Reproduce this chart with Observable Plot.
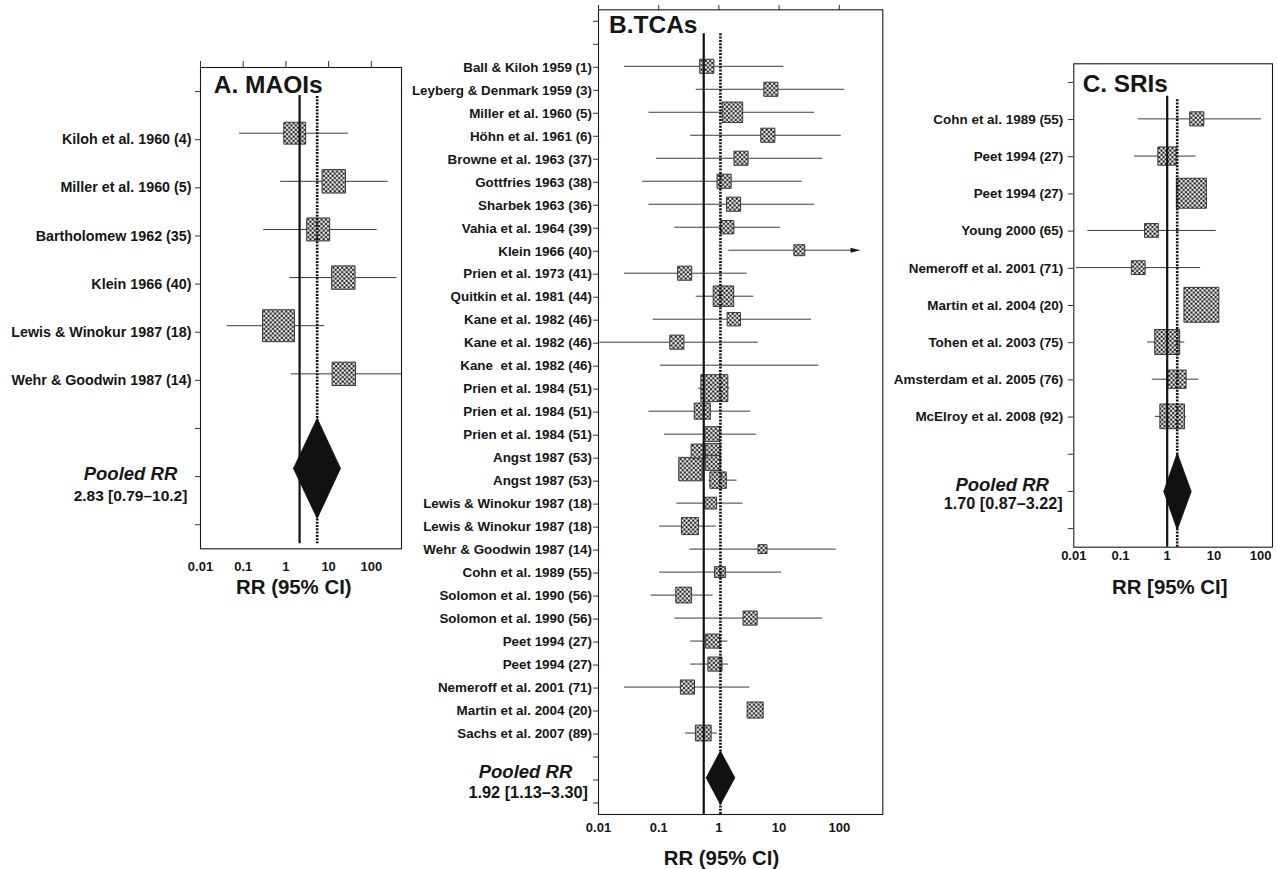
<!DOCTYPE html>
<html>
<head>
<meta charset="utf-8">
<script src="https://cdn.jsdelivr.net/npm/d3@7"></script>
<script src="https://cdn.jsdelivr.net/npm/@observablehq/plot@0.6"></script>
<style>
html, body { margin: 0; padding: 0; background: #fff; }
#wrap { position: relative; width: 1277px; height: 869px; overflow: hidden; }
</style>
</head>
<body>
<svg width="0" height="0" style="position:absolute">
  <defs>
    <pattern id="chk" width="4.4" height="4.4" patternUnits="userSpaceOnUse">
      <rect width="4.4" height="4.4" fill="#9c9c9c"/>
      <rect x="0.2" y="0.2" width="1.8" height="1.8" fill="#0c0c0c"/>
      <rect x="2.4" y="2.4" width="1.8" height="1.8" fill="#0c0c0c"/>
      <rect x="2.4" y="0.2" width="1.8" height="1.8" fill="#fafafa"/>
      <rect x="0.2" y="2.4" width="1.8" height="1.8" fill="#fafafa"/>
    </pattern>
  </defs>
</svg>
<div id="wrap"></div>
<script>
// ---------- shared axis ----------
const xTicks = [0.01, 0.1, 1, 10, 100];
const xTickLabels = ["0.01", "0.1", "1", "10", "100"];
const pooledLabel = "Pooled RR";

// ---------- Panel A: MAOIs ----------
const aTitle = "A. MAOIs";
const aStudies = ["Kiloh et al. 1960 (4)", "Miller et al. 1960 (5)", "Bartholomew 1962 (35)",
  "Klein 1966 (40)", "Lewis & Winokur 1987 (18)", "Wehr & Goodwin 1987 (14)"];
const aEst = [1.61, 13.2, 5.7, 22.1, 0.67, 22.7];
const aLo = [0.082, 0.75, 0.30, 1.24, 0.042, 1.35];
const aHi = [29, 249, 137, 400, 8.1, 540];
const aWeight = [4.8, 5.5, 5.3, 5.5, 10.2, 5.5];
const aPooledText = "2.83 [0.79–10.2]";
const aPooledDrawn = [1.5, 5.4, 19];      // lo, est, hi as drawn
const aRefLine = 2.09, aPooledLine = 5.4;
const aXLabel = "RR (95% CI)";

// ---------- Panel B: TCAs ----------
const bTitle = "B.TCAs";
const bStudies = ["Ball & Kiloh 1959 (1)", "Leyberg & Denmark 1959 (3)", "Miller et al. 1960 (5)",
  "Höhn et al. 1961 (6)", "Browne et al. 1963 (37)", "Gottfries 1963 (38)", "Sharbek 1963 (36)",
  "Vahia et al. 1964 (39)", "Klein 1966 (40)", "Prien et al. 1973 (41)", "Quitkin et al. 1981 (44)",
  "Kane et al. 1982 (46)", "Kane et al. 1982 (46)", "Kane  et al. 1982 (46)", "Prien et al. 1984 (51)",
  "Prien et al. 1984 (51)", "Prien et al. 1984 (51)", "Angst 1987 (53)", "Angst 1987 (53)",
  "Lewis & Winokur 1987 (18)", "Lewis & Winokur 1987 (18)", "Wehr & Goodwin 1987 (14)",
  "Cohn et al. 1989 (55)", "Solomon et al. 1990 (56)", "Solomon et al. 1990 (56)", "Peet 1994 (27)",
  "Peet 1994 (27)", "Nemeroff et al. 2001 (71)", "Martin et al. 2004 (20)", "Sachs et al. 2007 (89)"];
const bEst = [0.63, 7.3, 1.68, 6.5, 2.33, 1.22, 1.75, 1.37, 21.7, 0.27, 1.19, 1.77, 0.20, null,
  0.84, 0.53, 0.78, null, 0.97, 0.73, 0.33, 5.3, 1.04, 0.26, 3.3, 0.79, 0.86, 0.30, 4.0, 0.55];
const bLo = [0.027, 0.42, 0.069, 0.34, 0.092, 0.054, 0.069, 0.185, 1.46, 0.027, 0.42, 0.081, 0.0105, 0.107,
  0.46, 0.069, 0.125, null, 0.68, 0.20, 0.104, 0.33, 0.104, 0.075, 0.185, 0.34, 0.34, 0.027, null, 0.28];
const bHi = [12.0, 122, 39, 108, 53, 24.2, 39, 10.5, 219, 2.95, 3.8, 34.5, 4.5, 45.7,
  1.52, 3.35, 4.2, null, 2.0, 2.53, 0.90, 89, 11, 0.80, 53, 1.41, 1.44, 3.26, null, 0.94];
const bWeight = [2.0, 2.0, 4.2, 2.0, 2.0, 2.0, 2.0, 1.8, 1.2, 2.0, 4.2, 1.8, 2.0, null,
  7.3, 2.6, 2.25, null, 2.7, 1.4, 2.9, 0.8, 1.2, 2.5, 2.0, 2.0, 2.0, 2.0, 2.6, 2.5];
const bArrowStudy = "Klein 1966 (40)";     // CI continues beyond the axis
// overlapping squares printed around the Angst 1987 rows (row index on the panel's row list)
const bOverlapRows = [18.74, 18.74, 19.25, 19.52];
const bOverlapEst = [0.453, 0.79, 0.79, 0.337];
const bOverlapWeight = [2.0, 2.25, 2.25, 5.5];
const bPooledText = "1.92 [1.13–3.30]";
const bPooledDrawn = [0.615, 1.06, 1.84];
const bRefLine = 0.56, bPooledLine = 1.06;
const bXLabel = "RR (95% CI)";

// ---------- Panel C: SRIs ----------
const cTitle = "C. SRIs";
const cStudies = ["Cohn et al. 1989 (55)", "Peet 1994 (27)", "Peet 1994 (27)", "Young 2000 (65)",
  "Nemeroff et al. 2001 (71)", "Martin et al. 2004 (20)", "Tohen et al. 2003 (75)",
  "Amsterdam et al. 2005 (76)", "McElroy et al. 2008 (92)"];
const cEst = [4.3, 0.99, 3.3, 0.46, 0.24, 5.4, 1.0, 1.62, 1.28];
const cLo = [0.24, 0.20, null, 0.02, 0.0114, null, 0.38, 0.48, 0.56];
const cHi = [104, 4.2, null, 11.2, 5.2, null, 2.38, 4.75, 2.59];
const cWeight = [2.0, 3.35, 9.0, 1.9, 1.9, 12.2, 6.25, 3.35, 6.1];
const cPooledText = "1.70 [0.87–3.22]";
const cPooledDrawn = [0.845, 1.64, 3.27];
const cRefLine = 1.0, cPooledLine = 1.64;
const cXLabel = "RR [95% CI]";

// ---------- drawing ----------
const SIDE_PER_SQRT_WEIGHT = 10;
const arrowHead = {draw(ctx) { ctx.moveTo(4.6, 0); ctx.lineTo(-4.6, -2.5); ctx.lineTo(-4.6, 2.5); ctx.closePath(); }};
const FONT = "'Liberation Sans', Arial, Helvetica, sans-serif";

function makePanel(p) {
  const n = p.rows.length;
  const studies = p.labels.map((label, k) => ({label, row: p.firstRow + k, est: p.est[k], lo: p.lo[k], hi: p.hi[k], w: p.weight[k]}));
  const extra = (p.extraRows || []).map((row, k) => ({row, est: p.extraEst[k], w: p.extraWeight[k]}));
  const rOf = d => SIDE_PER_SQRT_WEIGHT * Math.sqrt(d.w) / Math.sqrt(Math.PI);
  const pr = p.pooledRow;
  const [dlo, dest, dhi] = p.pooledDrawn;
  const h = p.diamondHalf;
  const diamond = [[dlo, pr], [dest, pr - h], [dhi, pr], [dest, pr + h], [dlo, pr]];
  const marks = [];
  marks.push(Plot.ruleY(studies.filter(d => d.lo != null && d.hi != null),
    {y: "row", x1: "lo", x2: "hi", stroke: "#3a3a3a", strokeWidth: 1, dy: p.dy}));
  if (p.arrowLabel) {
    const s = studies.find(d => d.label === p.arrowLabel);
    marks.push(Plot.dot([s], {x: "hi", y: "row", symbol: arrowHead, r: 3, fill: "#1a1a1a", stroke: "none", dx: -4.6, dy: p.dy}));
  }
  const sq = {x: "est", y: "row", r: rOf, symbol: "square", fill: "url(#chk)", stroke: "#2b2b2b", strokeWidth: 0.9, dy: p.dy};
  marks.push(Plot.dot(studies.filter(d => d.est != null), sq));
  if (extra.length) marks.push(Plot.dot(extra, sq));
  marks.push(Plot.ruleX([p.refLine], {stroke: "#111", strokeWidth: 2.2, insetTop: p.refInsetTop, insetBottom: p.insetBottom}));
  marks.push(Plot.ruleX([p.pooledLine], {stroke: "#111", strokeWidth: 2.6, strokeDasharray: "2,1.3", insetTop: p.dotInsetTop, insetBottom: p.insetBottom}));
  marks.push(Plot.line(diamond, {x: d => d[0], y: d => d[1], fill: "#111", stroke: "#111", strokeWidth: 0.8, dy: p.diamondDy}));
  marks.push(Plot.frame({stroke: "#1a1a1a", strokeWidth: 1.1}));
  if (p.topTickSize) marks.push(Plot.axisX({anchor: "top", ticks: xTicks, tickSize: p.topTickSize, tickFormat: () => "", label: null, stroke: "#333"}));
  marks.push(Plot.axisX({anchor: "bottom", ticks: xTicks, tickSize: 0, tickPadding: p.xLabelPad,
    tickFormat: d => xTickLabels[xTicks.indexOf(d)], label: null, fontSize: 13, fontWeight: "bold"}));
  marks.push(Plot.axisY({ticks: d3.range(n), tickFormat: i => p.rows[i], tickSize: p.yTick, tickPadding: p.yPad,
    label: null, fontSize: p.yFont, fontWeight: "bold", stroke: "#333"}));
  marks.push(Plot.text([p.title], {text: d => d, frameAnchor: "top-left", dx: p.titleDx, dy: p.titleDy,
    textAnchor: "start", lineAnchor: "middle", fontSize: p.titleFont, fontWeight: "bold"}));
  marks.push(Plot.text([pooledLabel], {text: d => d, y: () => pr, frameAnchor: "left", dx: p.pooledDx, dy: p.pooledDy,
    textAnchor: "middle", lineAnchor: "middle", fontSize: 18.5, fontWeight: "bold", fontStyle: "italic"}));
  marks.push(Plot.text([p.pooledText], {text: d => d, y: () => pr, frameAnchor: "left", dx: p.valueDx, dy: p.valueDy,
    textAnchor: "middle", lineAnchor: "middle", fontSize: p.valueFont, fontWeight: "bold"}));
  marks.push(Plot.text([p.xLabel], {text: d => d, frameAnchor: "bottom", dx: p.xLabelDx, dy: p.xLabelDy,
    textAnchor: "middle", lineAnchor: "middle", fontSize: 20.4, fontWeight: "bold"}));

  const svg = Plot.plot({
    width: p.width, height: p.height,
    marginLeft: p.mL, marginRight: p.mR, marginTop: p.mT, marginBottom: p.mB,
    x: {type: "log", domain: p.domain},
    y: {domain: [-0.5, n - 0.5], reverse: true},
    r: {type: "identity"},
    style: {position: "absolute", left: p.left + "px", top: p.top + "px", fontFamily: FONT,
      color: "#161616", background: "transparent", overflow: "visible"},
    marks
  });
  document.getElementById("wrap").appendChild(svg);
}

makePanel({
  left: 0, top: 0, width: 410, height: 600, mL: 200, mR: 9, mT: 67, mB: 51.7, domain: [0.01, 509],
  rows: ["", ...aStudies, "", "", ""], labels: aStudies, firstRow: 1, pooledRow: aStudies.length + 2,
  est: aEst, lo: aLo, hi: aHi, weight: aWeight,
  pooledDrawn: aPooledDrawn, refLine: aRefLine, pooledLine: aPooledLine, pooledText: aPooledText,
  title: aTitle, xLabel: aXLabel,
  dy: -6.5, diamondDy: -8.2, diamondHalf: 1.04, refInsetTop: 28, dotInsetTop: 29, insetBottom: 5,
  topTickSize: 7, xLabelPad: 12.7, yTick: 5, yPad: 4, yFont: 14.3,
  titleDx: 13.3, titleDy: 17.2, titleFont: 24.5,
  pooledDx: -70, pooledDy: -2.6, valueDx: -70, valueDy: 19.8, valueFont: 15.5,
  xLabelDx: -7.2, xLabelDy: 38.4
});

makePanel({
  left: 400, top: 0, width: 485, height: 869, mL: 198, mR: 2.7, mT: 9.3, mB: 55, domain: [0.01, 528],
  rows: ["", "", ...bStudies, "", "", ""], labels: bStudies, firstRow: 2, pooledRow: bStudies.length + 3,
  est: bEst, lo: bLo, hi: bHi, weight: bWeight, arrowLabel: bArrowStudy,
  extraRows: bOverlapRows, extraEst: bOverlapEst, extraWeight: bOverlapWeight,
  pooledDrawn: bPooledDrawn, refLine: bRefLine, pooledLine: bPooledLine, pooledText: bPooledText,
  title: bTitle, xLabel: bXLabel,
  dy: -1, diamondDy: -2.3, diamondHalf: 1.165, refInsetTop: 24, dotInsetTop: 24, insetBottom: 0,
  topTickSize: 5.3, xLabelPad: 8.3, yTick: 5, yPad: 1.5, yFont: 13.4,
  titleDx: 10.5, titleDy: 15.7, titleFont: 24.5,
  pooledDx: -73, pooledDy: -7.8, valueDx: -70.3, valueDy: 12.5, valueFont: 16.3,
  xLabelDx: -19.2, xLabelDy: 43.7
});

makePanel({
  left: 880, top: 0, width: 397, height: 620, mL: 193.3, mR: 5, mT: 63.3, mB: 73.3, domain: [0.01, 180],
  rows: ["", ...cStudies, "", "", ""], labels: cStudies, firstRow: 1, pooledRow: cStudies.length + 2,
  est: cEst, lo: cLo, hi: cHi, weight: cWeight,
  pooledDrawn: cPooledDrawn, refLine: cRefLine, pooledLine: cPooledLine, pooledText: cPooledText,
  title: cTitle, xLabel: cXLabel,
  dy: -0.7, diamondDy: 0, diamondHalf: 1.03, refInsetTop: 32.4, dotInsetTop: 36, insetBottom: 0,
  topTickSize: 0, xLabelPad: 4, yTick: 5.5, yPad: 5, yFont: 13.45,
  titleDx: 9, titleDy: 20, titleFont: 24.3,
  pooledDx: -71.6, pooledDy: -6.1, valueDx: -70.6, valueDy: 12.2, valueFont: 16.2,
  xLabelDx: -3.4, xLabelDy: 39.8
});
</script>
</body>
</html>
